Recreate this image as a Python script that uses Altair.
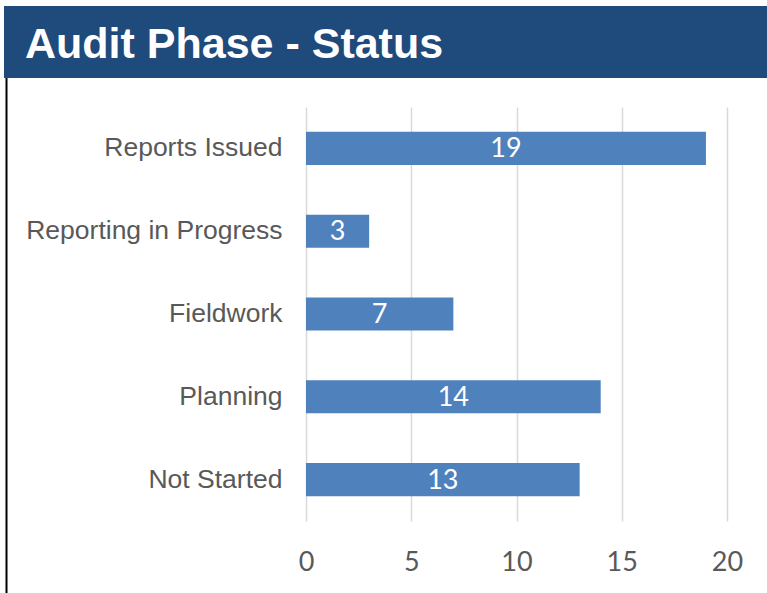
import altair as alt
import pandas as pd

categories = ["Reports Issued", "Reporting in Progress", "Fieldwork", "Planning", "Not Started"]
values = [19, 3, 7, 14, 13]
x_ticks = [0, 5, 10, 15, 20]
title_text = "Audit Phase - Status"

df = pd.DataFrame({"phase": categories, "count": values})

W, H = 421, 414
PL, PT, PR, PB = 306, 107, 40, 72

y_enc = alt.Y("phase:N", sort=categories, title=None,
              scale=alt.Scale(paddingInner=0.6, paddingOuter=0.3),
              axis=alt.Axis(domain=False, ticks=False, grid=False, labelFont="Liberation Sans",
                            labelFontSize=26.5, labelColor="#595959", labelPadding=24, labelLimit=400))
x_enc = alt.X("count:Q", title=None,
              scale=alt.Scale(domain=[0, 20], nice=False),
              axis=alt.Axis(values=x_ticks, domain=False, ticks=False, grid=True, gridColor="#D9D9D9",
                            gridWidth=1.5, labelFont="Lato", labelFontSize=27, labelColor="#595959",
                            labelPadding=28, labelFlush=False))

base = alt.Chart(df)
bars = base.mark_bar(color="#4F81BD").encode(x=x_enc, y=y_enc)
labels = base.transform_calculate(mid="datum.count / 2").mark_text(
    color="white", font="Lato", fontSize=27, baseline="middle", dy=1
).encode(x=alt.X("mid:Q"), y=alt.Y("phase:N", sort=categories), text="count:Q")

banner = alt.Chart(pd.DataFrame({"t": [title_text]})).mark_rect(color="#1F4A7C", clip=False).encode(
    x=alt.value(-302), x2=alt.value(W + PR), y=alt.value(-101), y2=alt.value(-29))
title = alt.Chart(pd.DataFrame({"t": [title_text]})).mark_text(
    color="white", font="Liberation Sans", fontWeight="bold", fontSize=43, align="left",
    baseline="alphabetic", clip=False
).encode(x=alt.value(-281), y=alt.value(-49), text="t:N")
border = alt.Chart(pd.DataFrame({"t": [1]})).mark_rule(color="black", strokeWidth=2, clip=False).encode(
    x=alt.value(-299.5), y=alt.value(-29), y2=alt.value(H + PB))

chart = alt.layer(bars, labels, banner, title, border).properties(
    width=W, height=H, background="white",
    padding={"left": PL, "top": PT, "right": PR, "bottom": PB},
    autosize=alt.AutoSizeParams(type="none")
).configure_view(stroke=None)

chart.save("out.html", embed_options={"renderer": "svg", "actions": False})
